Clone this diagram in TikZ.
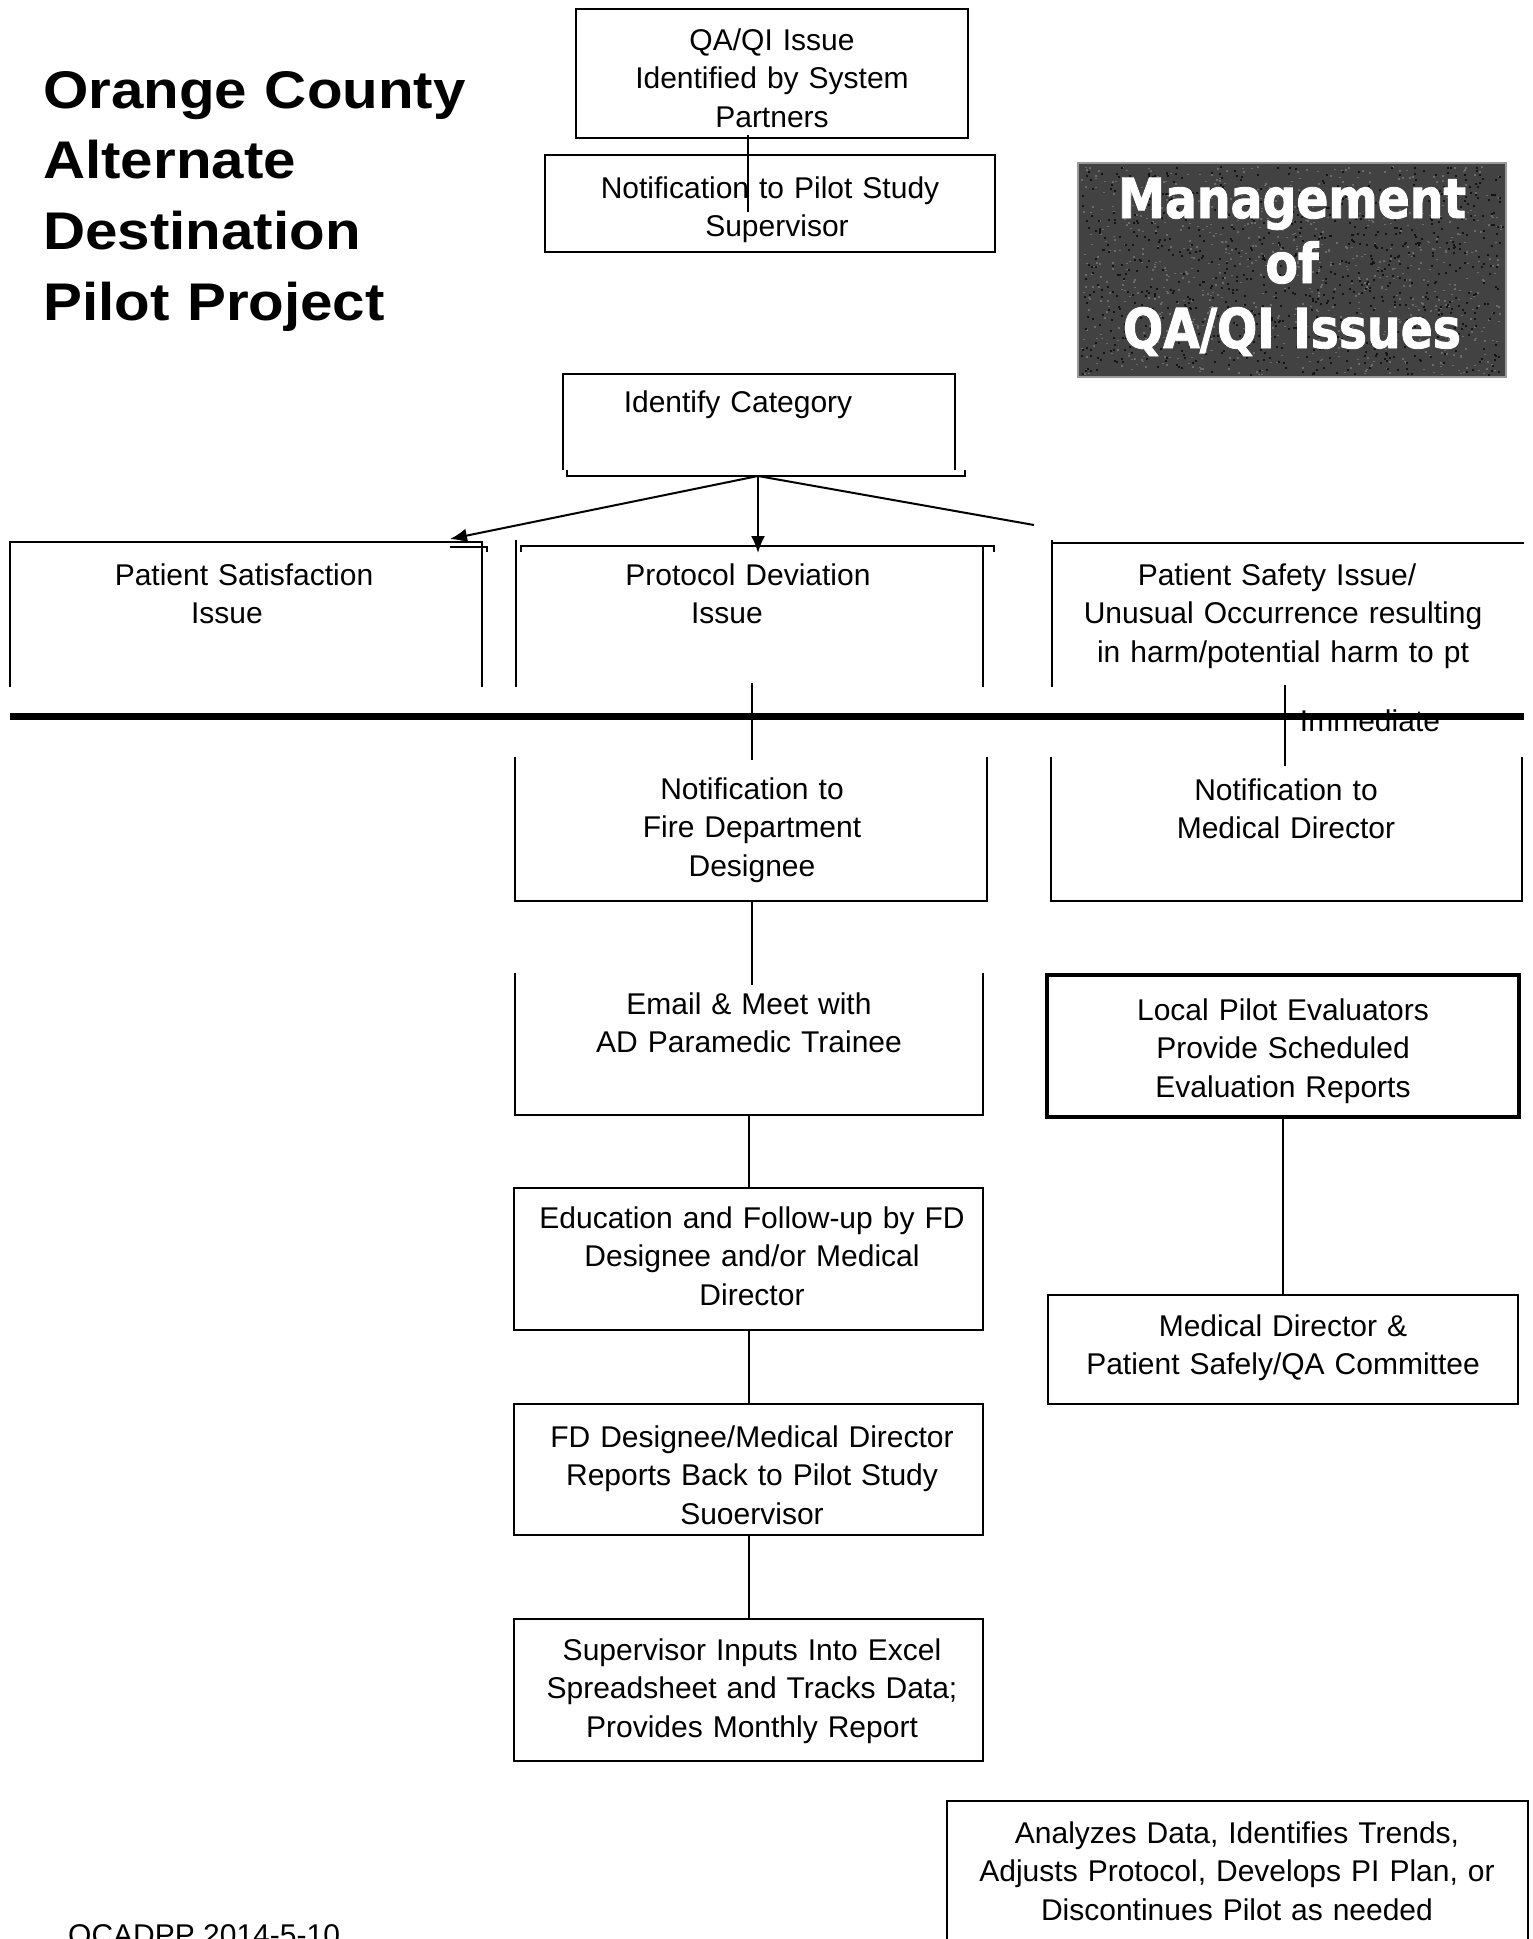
\documentclass[tikz,border=0pt]{standalone}
\usepackage{fontspec}
\setmainfont{Liberation Sans}
\newfontfamily\titlefont[FakeStretch=1.1]{Liberation Sans}
\newfontfamily\bannerfont[FakeStretch=0.86,FakeBold=1.6]{DejaVu Sans}
\usetikzlibrary{arrows.meta,fit}

\tikzset{
  box/.style={draw, line width=2pt, inner sep=0pt, outer sep=0pt},
  frame/.style={inner sep=0pt, outer sep=0pt},
  edge/.style={line width=2pt},
  thickbox/.style={draw, line width=4.5pt, inner sep=0pt, outer sep=0pt},
  txt/.style={anchor=base, align=center, text width=640pt, inner sep=0pt,
              font=\fontsize{30}{38.5}\selectfont},
  title/.style={anchor=base west, align=left, text width=520pt, inner sep=0pt,
              font=\titlefont\bfseries\fontsize{53}{70.7}\selectfont},
  banner/.style={anchor=base, align=center, text width=420pt, inner sep=0pt,
              text=white, font=\bannerfont\bfseries\fontsize{55}{65}\selectfont},
  arr/.style={edge, -{Latex[length=17pt,width=14pt]}},
}

\begin{document}
\begin{tikzpicture}[x=1pt,y=-1pt]
\useasboundingbox (0,0) rectangle (1533,1939);

% ---------- heading ----------
\node[title] (ttl) at (43,108) {Orange County\\Alternate\\Destination\\Pilot Project};

% ---------- banner with grainy dark ground ----------
\node[frame, fill=black!74, draw=black!40, line width=2pt, fit={(1078,163) (1506,377)}] (mgmt) {};
\pgfmathsetseed{11}
\foreach \i in {1,...,900}{
  \pgfmathsetmacro{\rx}{1081+rnd*421}
  \pgfmathsetmacro{\ry}{166+rnd*208}
  \fill[black!58] (\rx,\ry) rectangle ++(2,1.5);
}
\foreach \i in {1,...,900}{
  \pgfmathsetmacro{\rx}{1081+rnd*421}
  \pgfmathsetmacro{\ry}{166+rnd*208}
  \fill[black!92] (\rx,\ry) rectangle ++(2,2);
}
\node[banner] (mgmt-t) at (1292,218) {Management\\of\\QA/QI Issues};

% ---------- top boxes ----------
\node[box, fit={(576,9) (968,138)}] (qa) {};
\node[txt] (qa-t) at (772,50) {QA/QI Issue\\Identified by System\\Partners};

\node[box, fit={(545,155) (995,252)}] (notif) {};
\node[txt] (notif-t) at (770,198) {Notification to Pilot Study\\\hspace*{14pt}Supervisor};

\coordinate (qa-out) at (748,135);
\coordinate (notif-in) at (748,212);
\draw[edge] (qa-out) -- (notif-in);

% ---------- category selection ----------
\node[frame, fit={(563,374) (965,476)}] (idcat) {};
\draw[edge] (563,470) -- (563,374) -- (955,374) -- (955,470);
\draw[edge] (567,470) -- (567,476) -- (965,476) -- (965,470);
\node[txt] (idcat-t) at (738,412) {Identify Category};
\coordinate (fan) at (758,476);

% patient satisfaction (open below)
\node[frame, fit={(10,542) (482,687)}] (sat) {};
\draw[edge] (sat.south west) -- (sat.north west) -- (sat.north east) -- (sat.south east);
\draw[edge] (450,547) -- (487,547) -- (487,552);
\node[txt] (sat-t) at (244,585) {Patient Satisfaction\\\hspace*{-34pt}Issue};
\coordinate (sat-in) at (450,539);

% protocol deviation (open below)
\node[frame, fit={(516,546) (983,687)}] (prot) {};
\draw[edge] (516,540) -- (prot.south west);
\draw[edge] (983,546) -- (prot.south east);
\draw[edge] (521,552) -- (521,546) -- (994,546) -- (994,552);
\node[txt] (prot-t) at (748,585) {Protocol Deviation\\\hspace*{-42pt}Issue};
\coordinate (prot-in) at (758,553);

% patient safety (open below and right)
\node[frame, fit={(1052,543) (1524,687)}] (safe) {};
\draw[edge] (1052,540) -- (safe.south west);
\draw[edge] (safe.north west) -- (safe.north east);
\node[txt] (safe-t) at (1283,585) {\hspace*{-12pt}Patient Safety Issue/\\Unusual Occurrence resulting\\in harm/potential harm to pt};
\coordinate (safe-in) at (1034,525);

\draw[arr] (fan) -- (sat-in);
\draw[arr] (fan) -- (prot-in);
\draw[edge] (fan) -- (safe-in);

% ---------- divider ----------
\coordinate (div-l) at (10,716);
\coordinate (div-r) at (1524,716);
\node[txt] (imm) at (1370,731) {Immediate};
\draw[line width=7pt] (div-l) -- (div-r);

% ---------- protocol branch ----------
\node[frame, fit={(515,757) (987,901)}] (fdn) {};
\draw[edge] (fdn.north west) -- (fdn.south west) -- (fdn.south east) -- (fdn.north east);
\node[txt] (fdn-t) at (752,799) {Notification to\\Fire Department\\Designee};

\node[frame, fit={(515,973) (983,1115)}] (email) {};
\draw[edge] (email.north west) -- (email.south west) -- (email.south east) -- (email.north east);
\node[txt] (email-t) at (749,1014) {Email \& Meet with\\AD Paramedic Trainee};

\node[box, fit={(514,1188) (983,1330)}] (edu) {};
\node[txt] (edu-t) at (752,1228) {Education and Follow-up by FD\\Designee and/or Medical\\Director};

\node[box, fit={(514,1404) (983,1535)}] (rep) {};
\node[txt] (rep-t) at (752,1447) {FD Designee/Medical Director\\Reports Back to Pilot Study\\Suoervisor};

\node[box, fit={(514,1619) (983,1761)}] (inp) {};
\node[txt] (inp-t) at (752,1660) {Supervisor Inputs Into Excel\\Spreadsheet and Tracks Data;\\Provides Monthly Report};

\coordinate (prot-out) at (752,683);
\coordinate (fdn-in) at (752,760);
\coordinate (email-in) at (752,985);
\draw[edge] (prot-out) -- (fdn-in);
\draw[edge] (fdn.south -| email-in) -- (email-in);
\draw[edge] (email.south -| edu.north) -- (edu.north);
\draw[edge] (edu.south) -- (rep.north);
\draw[edge] (rep.south) -- (inp.north);

% ---------- safety branch ----------
\node[frame, fit={(1051,757) (1522,901)}] (mdn) {};
\draw[edge] (mdn.north west) -- (mdn.south west) -- (mdn.south east) -- (mdn.north east);
\node[txt] (mdn-t) at (1286,800) {Notification to\\Medical Director};
\coordinate (safe-out) at (1285,685);
\coordinate (mdn-in) at (1285,766);
\draw[edge] (safe-out) -- (mdn-in);

\node[thickbox, fit={(1047,975) (1519,1117)}] (local) {};
\node[txt] (local-t) at (1283,1020) {Local Pilot Evaluators\\Provide Scheduled\\Evaluation Reports};

\node[box, fit={(1048,1295) (1518,1404)}] (mdc) {};
\node[txt] (mdc-t) at (1283,1336) {Medical Director \&\\Patient Safely/QA Committee};
\draw[edge] (local.south) -- (mdc.north);

% ---------- analysis ----------
\node[box, fit={(947,1801) (1528,1960)}] (ana) {};
\node[txt] (ana-t) at (1237,1843) {Analyzes Data, Identifies Trends,\\Adjusts Protocol, Develops PI Plan, or\\Discontinues Pilot as needed};

% ---------- footer ----------
\node[anchor=base west, inner sep=0pt, font=\fontsize{30}{36}\selectfont] (foot) at (68,1945) {OCADPP 2014-5-10};
\end{tikzpicture}
\end{document}
